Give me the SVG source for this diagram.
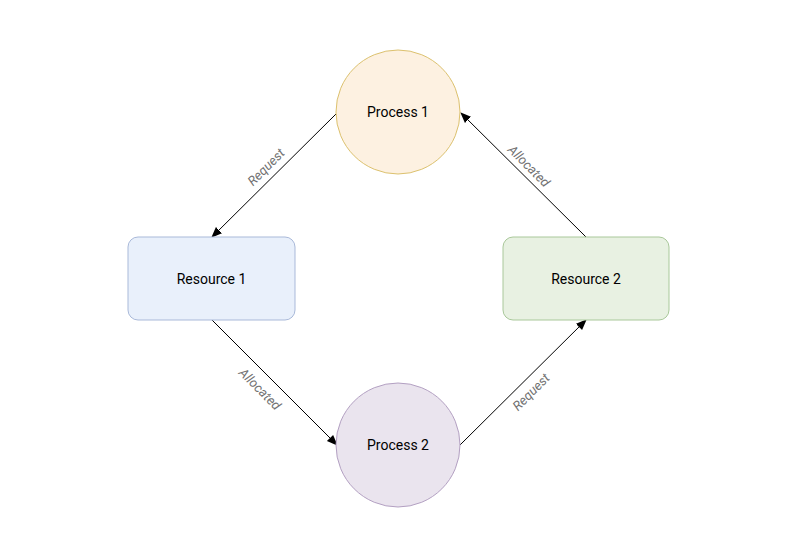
<svg xmlns="http://www.w3.org/2000/svg" width="800" height="560" viewBox="0 0 800 560">
<defs>
<style>
.lbl{font-family:Roboto,"Liberation Sans",sans-serif;font-size:14px;fill:#000;text-anchor:middle;dominant-baseline:central}
.el{font-family:Roboto,"Liberation Sans",sans-serif;font-size:13px;font-style:italic;fill:#707070;text-anchor:middle;dominant-baseline:central}
.edge{stroke:#000;stroke-width:1;fill:none;marker-end:url(#arr)}
</style>
<marker id="arr" viewBox="0 0 10 10" refX="9" refY="5" markerWidth="11" markerHeight="11" markerUnits="userSpaceOnUse" orient="auto">
<path d="M0,1 L10,5 L0,9 Z" fill="#000"/>
</marker>
</defs>
<rect width="800" height="560" fill="#fff"/>
<g id="connectors">
<line class="edge" x1="336" y1="114" x2="212" y2="237"/>
<line class="edge" x1="586" y1="237" x2="461" y2="113"/>
<line class="edge" x1="212" y1="320" x2="337" y2="445"/>
<line class="edge" x1="460" y1="445" x2="586" y2="320"/>
<text class="el" transform="translate(266,167) rotate(-45)">Request</text>
<text class="el" transform="translate(529,166) rotate(45)">Allocated</text>
<text class="el" transform="translate(260,389) rotate(45)">Allocated</text>
<text class="el" transform="translate(531,392) rotate(-45)">Request</text>
</g>
<g id="process1">
<circle cx="398" cy="112" r="62" fill="#fdf1e1" stroke="#dcc16e" stroke-width="1"/>
<text class="lbl" x="398" y="112">Process 1</text>
</g>
<g id="process2">
<circle cx="398" cy="445" r="62" fill="#eae4ee" stroke="#b3a0c2" stroke-width="1"/>
<text class="lbl" x="398" y="445">Process 2</text>
</g>
<g id="resource1">
<rect x="128" y="237" width="167" height="83" rx="10" fill="#e9f0fb" stroke="#a9b9d9" stroke-width="1"/>
<text class="lbl" x="211.5" y="278.5">Resource 1</text>
</g>
<g id="resource2">
<rect x="503" y="237" width="166" height="83" rx="10" fill="#e8f1e2" stroke="#a9c89a" stroke-width="1"/>
<text class="lbl" x="586" y="278.5">Resource 2</text>
</g>
</svg>
